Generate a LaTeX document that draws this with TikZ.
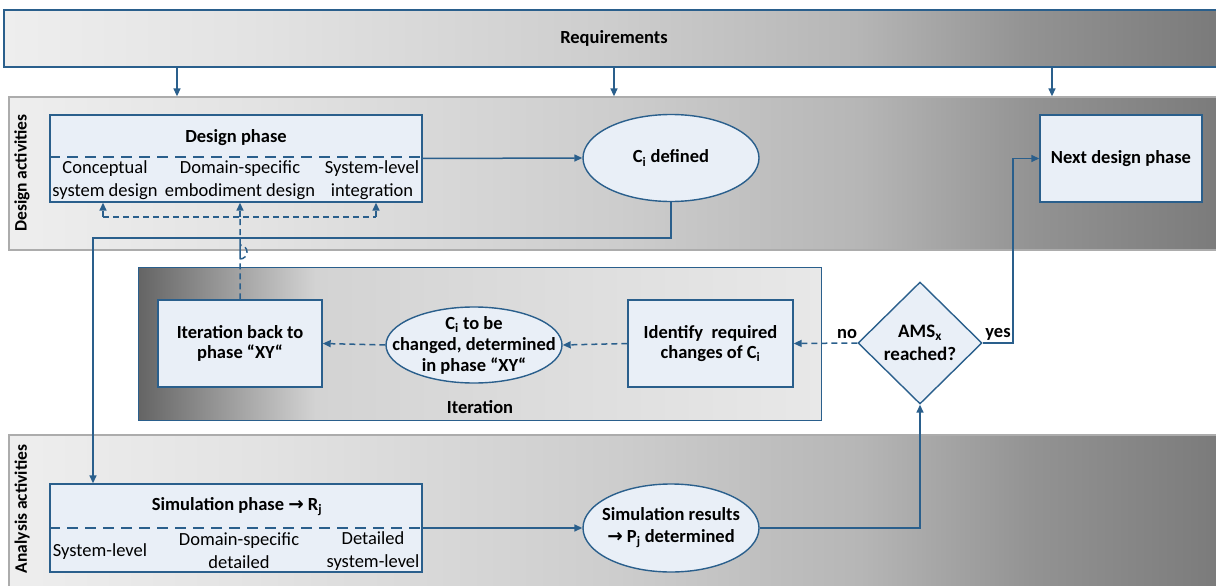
\documentclass[tikz,border=0pt]{standalone}
\usepackage{fontspec}
\setmainfont{Carlito}
\newfontfamily\symfont{DejaVu Sans}
\usetikzlibrary{arrows.meta,shapes.geometric,calc}

\definecolor{edge}{HTML}{2A5F8C}
\definecolor{boxfill}{HTML}{E9EFF7}
\definecolor{bandA}{HTML}{EEEEEE}
\definecolor{bandB}{HTML}{E3E3E3}
\definecolor{bandC}{HTML}{CDCDCD}
\definecolor{bandD}{HTML}{B6B6B6}
\definecolor{bandE}{HTML}{939393}
\definecolor{bandF}{HTML}{7A7A7A}
\definecolor{iterA}{HTML}{646464}
\definecolor{iterB}{HTML}{D3D3D3}
\definecolor{iterC}{HTML}{E8E8E8}

% light-to-dark band shading (box maps onto 25bp..75bp)
\pgfdeclarehorizontalshading{bandshade}{100bp}{%
  color(0bp)=(bandA); color(25bp)=(bandA); color(35bp)=(bandB);
  color(50bp)=(bandC); color(60bp)=(bandD); color(67bp)=(bandE);
  color(75bp)=(bandF); color(100bp)=(bandF)}
% dark-to-light shading of the iteration frame
\pgfdeclarehorizontalshading{itershade}{100bp}{%
  color(0bp)=(iterA); color(25bp)=(iterA); color(38bp)=(iterB);
  color(75bp)=(iterC); color(100bp)=(iterC)}

\tikzset{
  band/.style={shading=bandshade, rectangle, inner sep=0pt},
  proc/.style={draw=edge, line width=1.4pt, fill=boxfill, rectangle, inner sep=2pt,
    font=\bfseries\fontsize{18.5}{20.5}\selectfont, align=center},
  oval/.style={draw=edge, line width=1.4pt, fill=boxfill, ellipse, inner sep=-30pt,
    font=\bfseries\fontsize{18.5}{21}\selectfont, align=center},
  decide/.style={draw=edge, line width=1.4pt, fill=boxfill, diamond, inner sep=-6pt,
    font=\bfseries\fontsize{19}{23}\selectfont, align=center},
  title/.style={font=\bfseries\fontsize{18.5}{20}\selectfont, inner sep=0pt},
  subtext/.style={font=\fontsize{18.5}{23}\selectfont, align=center, inner sep=0pt},
  lbl/.style={font=\bfseries\fontsize{18.5}{20}\selectfont, inner sep=0pt},
  side/.style={font=\bfseries\fontsize{17.5}{20}\selectfont, inner sep=0pt, rotate=90},
  tip/.style={-{Triangle[length=8pt,width=7pt]}},
  flow/.style={draw=edge, line width=1.5pt, tip},
  dflow/.style={draw=edge, line width=1.5pt, dash pattern=on 6pt off 4pt},
  sep/.style={draw=edge, line width=1.4pt, dash pattern=on 11pt off 7pt},
}

\begin{document}
\begin{tikzpicture}[x=1pt, y=-1pt]
\useasboundingbox (0,0) rectangle (1216,586);

% --- horizontal bands ---
\node[band, draw=edge, line width=1.2pt, minimum width=1216pt, minimum height=57pt]
  (req) at (612,38.5) {};
\node[title] (reqt) at (614,38) {Requirements};

\node[band, draw=gray!65, line width=1.3pt, minimum width=1216pt, minimum height=153pt]
  (dband) at (617,173.5) {};
\node[side] (dlab) at (22,173) {Design activities};

\node[band, draw=gray!65, line width=1.3pt, minimum width=1216pt, minimum height=155pt]
  (aband) at (617,512.5) {};
\node[side] (alab) at (22,509) {Analysis activities};

% --- iteration frame ---
\node[shading=itershade, draw=edge, line width=1pt, rectangle, inner sep=0pt,
  minimum width=683pt, minimum height=153pt] (iter) at (479.5,343.5) {};
\node[lbl] (itert) at (480,407) {Iteration};

% --- design phase box ---
\node[proc, minimum width=372pt, minimum height=87pt] (dp) at (236,158.5) {};
\node[title] (dpt) at (236,138) {Design phase};
\coordinate (dsep) at (0,157);
\draw[sep] (dp.west |- dsep) -- (dp.east |- dsep);
\node[subtext] (d1) at (105,180.5) {Conceptual\\system design};
\node[subtext] (d2) at (240,180.5) {Domain-specific\\embodiment design};
\node[subtext] (d3) at (372,180.5) {System-level\\integration};

% --- simulation phase box ---
\node[proc, minimum width=372pt, minimum height=88pt] (sp) at (236,528) {};
\node[title] (spt) at (237,507) {Simulation phase {\symfont\bfseries →} R\textsubscript{j}};
\draw[sep] (sp.west) -- (sp.east);
\node[subtext] (s1) at (100,552) {System-level};
\node[subtext] (s2) at (239,551) {Domain-specific\\detailed};
\node[subtext] (s3) at (373,551) {Detailed\\system-level};

% --- other nodes ---
\node[oval, minimum width=176pt, minimum height=87pt] (cdef) at (671,158) {C\textsubscript{i} defined};
\node[proc, minimum width=162pt, minimum height=87pt] (nd) at (1121,158.5) {Next design phase};
\node[oval, minimum width=176pt, minimum height=88pt, font=\bfseries\fontsize{18.5}{22}\selectfont]
  (sres) at (671,528)
  {Simulation results\\{\symfont\bfseries →} P\textsubscript{j} determined};
\node[decide, minimum width=124pt, minimum height=122pt] (dia) at (920,343)
  {AMS\textsubscript{x}\\reached?};
\node[proc, minimum width=165pt, minimum height=87pt] (idf) at (710.5,343.5)
  {Identify\ \ required\\changes of C\textsubscript{i}};
\node[oval, minimum width=176pt, minimum height=76pt] (cchg) at (474,345)
  {C\textsubscript{i} to be\\changed, determined\\in phase “XY“};
\node[proc, minimum width=164pt, minimum height=87pt] (ib) at (240,343.5)
  {Iteration back to\\phase “XY“};
\node[lbl] (no) at (847,334) {no};
\node[lbl] (yes) at (998,334) {yes};

% --- requirement arrows ---
\coordinate (r1) at (177,0);
\coordinate (r2) at (614,0);
\coordinate (r3) at (1052,0);
\foreach \r in {r1,r2,r3}
  \draw[flow] (req.south -| \r) -- (dband.north -| \r);

% --- solid flow ---
\draw[flow] (dp.east) -- (cdef.west);
\coordinate (t1) at (93,238);
\draw[flow] (cdef.south) |- (t1) -- (t1 |- sp.north);
\draw[flow] (sp.east) -- (sres.west);
\draw[flow] (sres.east) -| (dia.south);
\coordinate (yx) at (1013,0);
\draw[flow] (dia.east) -| (yx |- nd.west) -- (nd.west);

% --- dashed iteration flow ---
\draw[dflow, tip] (dia.west) -- (idf.east);
\draw[dflow, tip] (idf.west) -- (cchg.east);
\draw[dflow, tip] (cchg.west) -- (ib.east);

% feedback into the design phase, hopping over the solid line
\coordinate (fb1) at (103,217);
\coordinate (fb2) at (240,217);
\coordinate (fb3) at (376,217);
\coordinate (hop) at (240,245);
\draw[dflow] (ib.north) -- (hop) arc[start angle=90, end angle=-90, radius=7pt] -- (fb2);
\draw[dflow] (fb1) -- (fb3);
\foreach \f in {fb1,fb2,fb3}
  \draw[dflow, tip] (\f) -- (\f |- dp.south);
\end{tikzpicture}
\end{document}
